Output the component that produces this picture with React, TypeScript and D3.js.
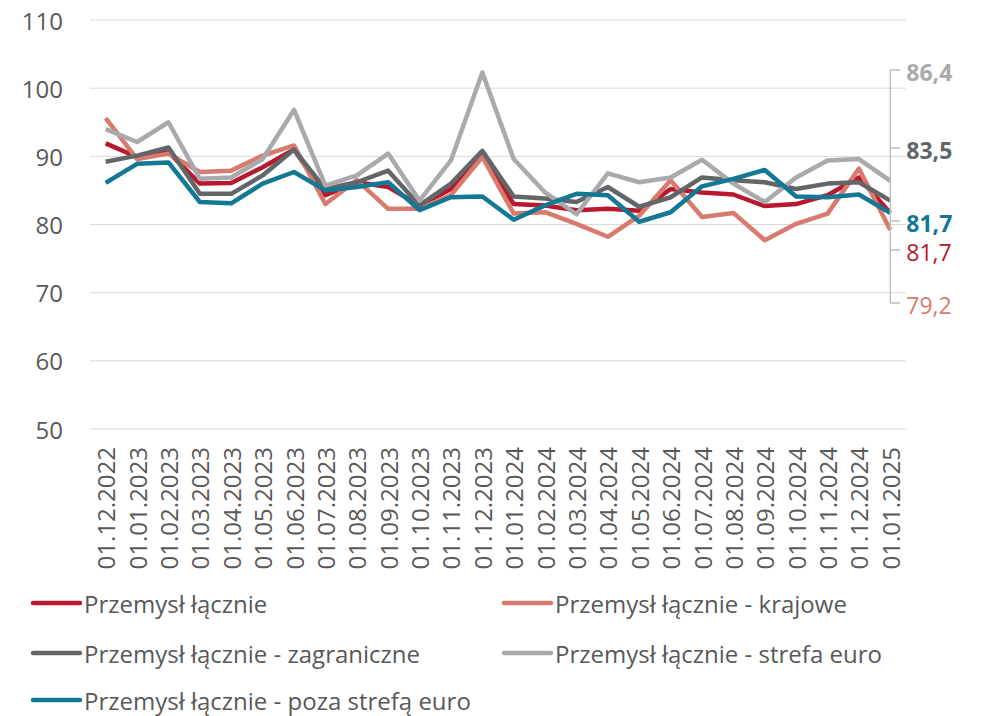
import React from 'react';
import * as d3 from 'd3';

const dates = [
	"01.12.2022", "01.01.2023", "01.02.2023", "01.03.2023", "01.04.2023", "01.05.2023",
	"01.06.2023", "01.07.2023", "01.08.2023", "01.09.2023", "01.10.2023", "01.11.2023",
	"01.12.2023", "01.01.2024", "01.02.2024", "01.03.2024", "01.04.2024", "01.05.2024",
	"01.06.2024", "01.07.2024", "01.08.2024", "01.09.2024", "01.10.2024", "01.11.2024",
	"01.12.2024", "01.01.2025"
];

const total = [91.9, 89.9, 90.6, 86.0, 86.1, 88.4, 91.0, 84.3, 86.2, 85.5, 82.8, 85.2, 90.1,
	83.0, 82.8, 82.1, 82.3, 82.0, 85.2, 84.7, 84.4, 82.7, 83.0, 84.3, 86.9, 81.7];
const domestic = [95.6, 89.6, 90.4, 87.7, 87.9, 90.1, 91.6, 83.0, 86.5, 82.3, 82.3, 84.3, 89.9,
	81.6, 81.8, 80.1, 78.2, 81.3, 86.5, 81.1, 81.7, 77.7, 80.1, 81.6, 88.2, 79.2];
const foreign = [89.2, 90.1, 91.3, 84.5, 84.5, 87.2, 91.0, 85.2, 86.2, 87.9, 82.8, 86.0, 90.8,
	84.1, 83.8, 83.3, 85.5, 82.6, 84.0, 86.9, 86.5, 86.2, 85.2, 86.0, 86.2, 83.5];
const euroZone = [94.0, 92.1, 95.0, 86.7, 86.9, 89.6, 96.8, 85.7, 87.2, 90.4, 83.5, 89.4, 102.3,
	89.6, 84.7, 81.5, 87.5, 86.2, 86.9, 89.5, 86.0, 83.3, 86.9, 89.4, 89.6, 86.4];
const outsideEuro = [86.1, 88.9, 89.1, 83.3, 83.1, 86.0, 87.7, 85.0, 85.5, 86.2, 82.1, 84.0, 84.1,
	80.7, 82.8, 84.5, 84.3, 80.4, 81.8, 85.6, 86.7, 88.0, 84.1, 84.0, 84.4, 81.7];

const yTicks = [50, 60, 70, 80, 90, 100, 110];

const series = [
	{ name: "Przemysł łącznie", values: total, color: "#B8182B" },
	{ name: "Przemysł łącznie - krajowe", values: domestic, color: "#D87A6D" },
	{ name: "Przemysł łącznie - zagraniczne", values: foreign, color: "#636669" },
	{ name: "Przemysł łącznie - strefa euro", values: euroZone, color: "#A8AAAD" },
	{ name: "Przemysł łącznie - poza strefą euro", values: outsideEuro, color: "#137893" }
];

// last-value callouts on the right, in top-to-bottom order
const endLabels = [
	{ text: "86,4", color: "#A8AAAD", bold: true },
	{ text: "83,5", color: "#636669", bold: true },
	{ text: "81,7", color: "#137893", bold: true },
	{ text: "81,7", color: "#B8182B", bold: false },
	{ text: "79,2", color: "#D87A6D", bold: false }
];
const endLabelY = [70, 148, 221, 250, 303];

const font = "'Open Sans', sans-serif";
const textColor = "#595959";

export default function App() {
	const width = 982;
	const height = 716;

	const x = d3.scaleBand<string>().domain(dates).range([90, 906]);
	const y = d3.scaleLinear().domain([50, 110]).range([429, 20]);
	const cx = (d: string) => (x(d) as number) + x.bandwidth() / 2;

	const line = d3.line<number>()
		.x((_, i) => cx(dates[i]))
		.y((v) => y(v));

	const bracketX = cx(dates[dates.length - 1]);

	const legendRows = [
		{ s: series[0], lx: 33, ly: 603 },
		{ s: series[1], lx: 504, ly: 603 },
		{ s: series[2], lx: 33, ly: 653 },
		{ s: series[3], lx: 504, ly: 653 },
		{ s: series[4], lx: 33, ly: 700 }
	];

	return (
		<svg width={width} height={height} style={{ position: 'absolute', left: 0, top: 0 }}
			fontFamily={font}>
			<rect width={width} height={height} fill="#fff" />
			<g className="grid">
				{yTicks.map((t) => (
					<line key={t} x1={90} x2={906} y1={y(t)} y2={y(t)} stroke="#D9D9D9" strokeWidth={1} />
				))}
			</g>
			<g className="y-axis">
				{yTicks.map((t) => (
					<text key={t} x={63} y={y(t)} textAnchor="end" dominantBaseline="central"
						fontSize={24} fill={textColor}>{t}</text>
				))}
			</g>
			<g className="x-axis">
				{dates.map((d) => (
					<text key={d} transform={`translate(${cx(d)},447)rotate(-90)`} textAnchor="end"
						dominantBaseline="central" fontSize={24} fill={textColor}>{d}</text>
				))}
			</g>
			<g className="lines">
				{series.map((s) => (
					<path key={s.name} d={line(s.values) || ''} fill="none" stroke={s.color}
						strokeWidth={4.5} strokeLinejoin="round" />
				))}
			</g>
			<g className="callouts">
				<line x1={bracketX} x2={bracketX} y1={endLabelY[0]} y2={endLabelY[endLabelY.length - 1]}
					stroke="#BFBFBF" strokeWidth={1.5} />
				{endLabels.map((l, i) => (
					<g key={i}>
						<line x1={bracketX} x2={bracketX + 10} y1={endLabelY[i]} y2={endLabelY[i]}
							stroke="#BFBFBF" strokeWidth={1.5} />
						<text x={bracketX + 16} y={endLabelY[i] + 2} dominantBaseline="central" fontSize={23}
							fontWeight={l.bold ? 700 : 400} fill={l.color}>{l.text}</text>
					</g>
				))}
			</g>
			<g className="legend">
				{legendRows.map(({ s, lx, ly }) => (
					<g key={s.name}>
						<line x1={lx} x2={lx + 47} y1={ly} y2={ly} stroke={s.color} strokeWidth={4.5}
							strokeLinecap="round" />
						<text x={lx + 51} y={ly} dominantBaseline="central" fontSize={24} fill={textColor}>
							{s.name}
						</text>
					</g>
				))}
			</g>
		</svg>
	);
}
